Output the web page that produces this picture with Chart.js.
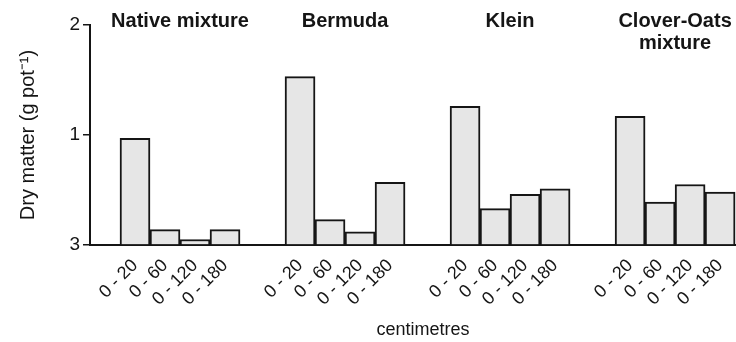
<!DOCTYPE html>
<html>
<head>
<meta charset="utf-8">
<script src="https://cdn.jsdelivr.net/npm/chart.js@4.4.0/dist/chart.umd.min.js"></script>
<style>
  body { margin: 0; background: #fff; }
</style>
</head>
<body>
<canvas id="myChart" width="736" height="342"></canvas>
<script>
let groups = [["Native mixture"], ["Bermuda"], ["Klein"], ["Clover-Oats", "mixture"]]
let depths = ["0 - 20", "0 - 60", "0 - 120", "0 - 180"]
let nativeMixture = [0.97, 0.14, 0.05, 0.14]
let bermuda = [1.53, 0.23, 0.12, 0.57]
let klein = [1.26, 0.33, 0.46, 0.51]
let cloverOats = [1.17, 0.39, 0.55, 0.48]
let yTicks = ["3", "1", "2"]
let xTitle = "centimetres"
let yTitle = "Dry matter (g pot\u207B\u00B9)"

let seriesByGroup = [nativeMixture, bermuda, klein, cloverOats]
let ink = '#151515'
let font = "'Liberation Sans', Arial, sans-serif"

// 4 bars per group, groups 5.5 bar slots apart
let points = []
let tickPos = []
let tickText = []
seriesByGroup.forEach((vals, g) => {
  vals.forEach((v, i) => {
    let x = 1.5 + g * 5.5 + i
    points.push({x: x, y: v})
    tickPos.push(x)
    tickText.push(depths[i])
  })
})

// group names on top + x title
let textPlugin = {
  id: 'texts',
  afterDraw(chart) {
    let ctx = chart.ctx
    let xs = chart.scales.x
    ctx.save()
    ctx.fillStyle = ink
    ctx.textAlign = 'center'
    ctx.textBaseline = 'alphabetic'
    ctx.font = "bold 20px " + font
    groups.forEach((lines, g) => {
      let cx = xs.getPixelForValue(3 + g * 5.5)
      lines.forEach((t, k) => ctx.fillText(t, cx, 27 + k * 22))
    })
    ctx.font = "18px " + font
    ctx.fillText(xTitle, 423, 335)
    ctx.restore()
  }
}

let myChart = new Chart(document.getElementById('myChart'), {
  type: 'bar',
  data: {
    datasets: [{
      data: points,
      backgroundColor: '#e6e6e6',
      borderColor: ink,
      borderWidth: 2,
      barPercentage: 1,
      categoryPercentage: 1
    }]
  },
  options: {
    responsive: false,
    devicePixelRatio: 1,
    animation: false,
    layout: { padding: { top: 25, right: 0, bottom: 0, left: 0 } },
    plugins: { legend: { display: false }, tooltip: { enabled: false } },
    scales: {
      x: {
        type: 'linear',
        offset: false,
        min: 0,
        max: 21.53,
        afterBuildTicks: axis => { axis.ticks = tickPos.map(v => ({value: v})) },
        afterFit: axis => { axis.height = 97; axis.paddingLeft = 0; axis.paddingRight = 0 },
        grid: { display: false },
        border: { display: true, width: 2, color: ink },
        ticks: {
          autoSkip: false,
          minRotation: 45,
          maxRotation: 45,
          padding: 2,
          color: ink,
          font: { size: 18, family: font },
          callback: (v, i) => tickText[i]
        }
      },
      y: {
        min: 0,
        max: 2,
        afterBuildTicks: axis => { axis.ticks = [0, 1, 2].map(v => ({value: v})) },
        afterFit: axis => { axis.width = 90 },
        grid: { drawOnChartArea: false, tickLength: 7, color: ink, lineWidth: 1.5 },
        border: { display: true, width: 2, color: ink },
        ticks: {
          padding: 3,
          color: ink,
          font: { size: 19, family: font },
          callback: (v, i) => yTicks[i]
        },
        title: {
          display: true,
          text: yTitle,
          color: ink,
          font: { size: 20, family: font },
          padding: { top: 16, bottom: 0 }
        }
      }
    }
  },
  plugins: [textPlugin]
})
</script>
</body>
</html>
